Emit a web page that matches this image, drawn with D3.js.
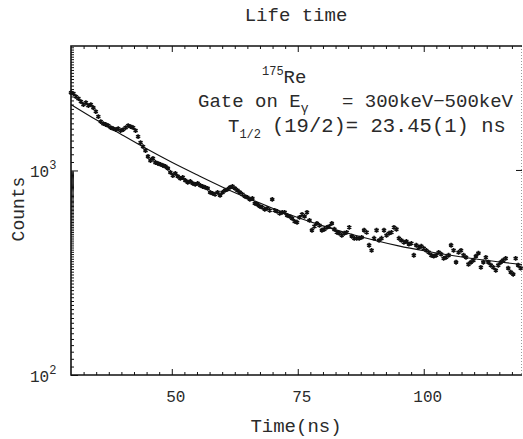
<!DOCTYPE html>
<html>
<head>
<meta charset="utf-8">
<script src="https://cdn.jsdelivr.net/npm/d3@7/dist/d3.min.js"></script>
<style>
  html, body { margin: 0; padding: 0; background: #fff; }
  svg { display: block; }
  text { font-family: "Liberation Mono", "DejaVu Sans Mono", monospace; fill: #2a2a2a; }
</style>
</head>
<body>
<div id="chart"></div>
<script>
// Histogram of counts, one value per time bin (bins start at 30 ns)
const binStart = 30;
const binWidth = 0.493;
const counts = [
  2400, 2375, 2296, 2245, 2171, 2099, 2147, 2075, 2099, 2028,
  1940, 1834, 1734, 1695, 1677, 1658, 1621, 1603, 1585, 1603,
  1567, 1585, 1621, 1658, 1639, 1621, 1567, 1465, 1369, 1309,
  1252, 1170, 1119, 1144, 1094, 1082, 1070, 1058, 1046, 1023,
  978, 945, 967, 935, 914, 924, 894, 874, 884, 864,
  855, 864, 845, 835, 826, 817, 781, 772, 764, 781,
  755, 781, 799, 808, 826, 835, 817, 799, 781, 764,
  747, 738, 722, 730, 690, 682, 667, 660, 645, 653,
  638, 722, 638, 631, 617, 624, 624, 603, 596, 583,
  564, 558, 590, 610, 596, 624, 570, 510, 533, 551,
  539, 510, 516, 527, 533, 551, 516, 498, 493, 482,
  493, 498, 527, 477, 466, 466, 466, 471, 510, 498,
  431, 407, 466, 510, 455, 466, 510, 482, 493, 498,
  527, 516, 466, 455, 445, 450, 436, 440, 385, 431,
  421, 426, 416, 407, 398, 385, 381, 385, 398, 390,
  372, 376, 385, 431, 407, 356, 398, 407, 385, 376,
  348, 356, 364, 381, 394, 336, 356, 376, 356, 344,
  336, 325, 344, 356, 364, 372, 333, 318, 311, 372,
  344, 333
];

// Fitted decay curve
const fitTimes  = [30, 35, 40, 45, 50, 55, 60, 65, 70, 75, 80, 85, 90, 95, 100, 105, 110, 115, 119.5];
const fitCounts = [2100, 1768, 1499, 1276, 1096, 952, 831, 734, 654, 589, 536, 493, 457, 428, 405, 386, 370, 357, 347];

const xTicks = [50, 75, 100];
const yTicks = [100, 1000];
const yTickExp = ["2", "3"];

const width = 523, height = 439;
const margin = { top: 46, right: 1, bottom: 64, left: 71 };

const svg = d3.select("#chart").append("svg")
  .attr("width", width)
  .attr("height", height);

const x = d3.scaleLinear().domain([30, 119.5]).range([margin.left, width - margin.right]);
const y = d3.scaleLog().domain([100, 4060]).range([height - margin.bottom, margin.top]);

const x0 = margin.left, x1 = width - margin.right;
const y0 = height - margin.bottom, y1 = margin.top;

// minor tick positions
const xMinor = d3.range(32.5, 119, 2.5).filter(v => !xTicks.includes(v));
const yMinor = d3.range(110, 1000, 10).concat(d3.range(1100, 4060, 100));

// bottom axis
svg.append("g")
  .attr("transform", `translate(0,${y0})`)
  .call(d3.axisBottom(x).tickValues(xMinor).tickSize(-3).tickFormat("").tickSizeOuter(0))
  .call(g => g.select(".domain").remove());
svg.append("g")
  .attr("transform", `translate(0,${y0})`)
  .call(d3.axisBottom(x).tickValues(xTicks).tickSize(-6).tickFormat("").tickSizeOuter(0))
  .call(g => g.select(".domain").remove());

// top axis
svg.append("g")
  .attr("transform", `translate(0,${y1})`)
  .call(d3.axisTop(x).tickValues(xMinor).tickSize(-3).tickFormat("").tickSizeOuter(0))
  .call(g => g.select(".domain").remove());
svg.append("g")
  .attr("transform", `translate(0,${y1})`)
  .call(d3.axisTop(x).tickValues(xTicks).tickSize(-6).tickFormat("").tickSizeOuter(0))
  .call(g => g.select(".domain").remove());

// left axis
svg.append("g")
  .attr("transform", `translate(${x0},0)`)
  .call(d3.axisLeft(y).tickValues(yMinor).tickSize(-3).tickFormat("").tickSizeOuter(0))
  .call(g => g.select(".domain").remove());
svg.append("g")
  .attr("transform", `translate(${x0},0)`)
  .call(d3.axisLeft(y).tickValues(yTicks).tickSize(-7).tickFormat("").tickSizeOuter(0))
  .call(g => g.select(".domain").remove());

svg.selectAll(".tick line").attr("stroke", "#111").attr("stroke-width", 1);

// right axis: faint dotted line with one major tick
svg.append("line")
  .attr("x1", x1 - 0.5).attr("x2", x1 - 0.5)
  .attr("y1", y1).attr("y2", y0)
  .attr("stroke", "#999").attr("stroke-dasharray", "1,2");
svg.append("line")
  .attr("x1", x1 - 6).attr("x2", x1)
  .attr("y1", y(1000)).attr("y2", y(1000))
  .attr("stroke", "#111");

// frame lines
svg.append("path")
  .attr("d", `M${x1},${y1}H${x0}V${y0}H${x1}`)
  .attr("fill", "none")
  .attr("stroke", "#111")
  .attr("stroke-width", 1.6);

// x tick labels
svg.append("g").selectAll("text")
  .data(xTicks)
  .join("text")
  .attr("x", d => x(d) + 4)
  .attr("y", 402)
  .attr("text-anchor", "middle")
  .attr("font-size", 16)
  .text(d => d);

// y tick labels (10^n)
const yl = svg.append("g").selectAll("text")
  .data(yTicks)
  .join("text")
  .attr("x", 30)
  .attr("y", d => y(d) + 7)
  .attr("font-size", 16);
yl.append("tspan").text("10");
yl.append("tspan").attr("dy", -8).attr("font-size", 12).text((d, i) => yTickExp[i]);

// axis titles
svg.append("text")
  .attr("x", 296).attr("y", 432)
  .attr("text-anchor", "middle")
  .attr("font-size", 19)
  .text("Time(ns)");

svg.append("text")
  .attr("transform", "translate(24,209) rotate(-90)")
  .attr("text-anchor", "middle")
  .attr("font-size", 18)
  .text("Counts");

svg.append("text")
  .attr("x", 296).attr("y", 21)
  .attr("text-anchor", "middle")
  .attr("font-size", 19)
  .text("Life time");

// fit curve
svg.append("path")
  .datum(fitTimes.map((t, i) => [t, fitCounts[i]]))
  .attr("fill", "none")
  .attr("stroke", "#111")
  .attr("stroke-width", 1.1)
  .attr("d", d3.line().curve(d3.curveMonotoneX).x(d => x(d[0])).y(d => y(d[1])));

// data points
const star = d3.symbol().type(d3.symbolAsterisk).size(16);
svg.append("g").selectAll("path")
  .data(counts)
  .join("path")
  .attr("transform", (d, i) => `translate(${x(binStart + i * binWidth)},${y(d)})`)
  .attr("d", star)
  .attr("fill", "none")
  .attr("stroke", "#111")
  .attr("stroke-width", 1.6);

// legend text
const legend = svg.append("g");
const re = legend.append("text").attr("x", 262).attr("y", 83).attr("font-size", 19);
re.append("tspan").attr("dy", -8).attr("font-size", 12).text("175");
re.append("tspan").attr("dy", 8).text("Re");

const gate = legend.append("text").attr("x", 198).attr("y", 107).attr("font-size", 19);
gate.append("tspan").text("Gate on E");
gate.append("tspan").attr("dy", 5).attr("font-size", 13).text("\u03b3");
legend.append("text").attr("x", 513).attr("y", 107).attr("text-anchor", "end")
  .attr("font-size", 19).text("=  300keV\u2212500keV");

const th = legend.append("text").attr("x", 228).attr("y", 132).attr("font-size", 19);
th.append("tspan").text("T");
th.append("tspan").attr("dy", 6).attr("font-size", 12).text("1/2");
legend.append("text").attr("x", 272).attr("y", 132)
  .attr("font-size", 20.5).text("(19/2)= 23.45(1) ns");
</script>
</body>
</html>
